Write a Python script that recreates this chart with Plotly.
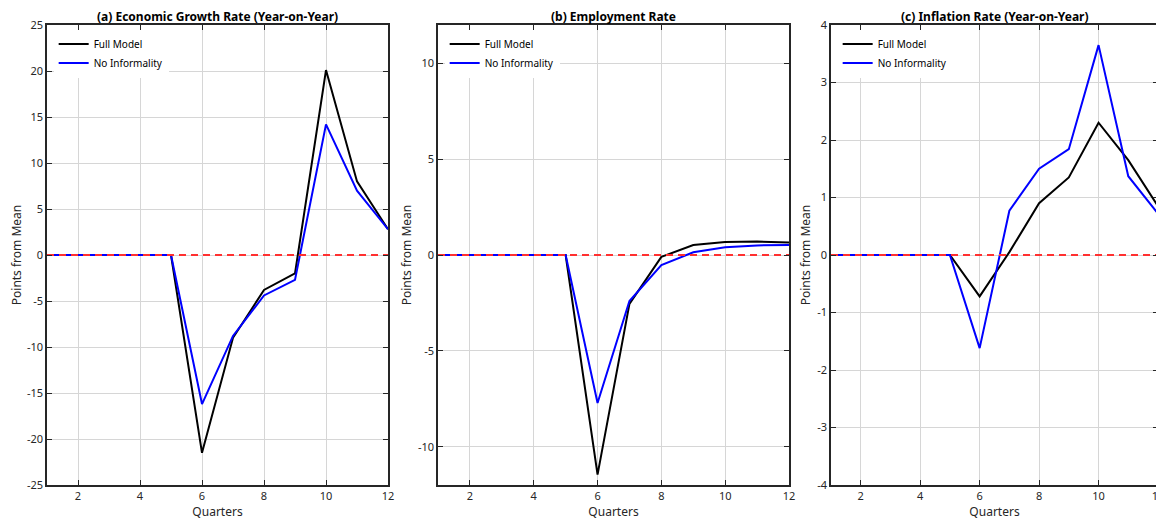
import plotly.graph_objects as go

quarters = list(range(1, 13))

growth_full = [0, 0, 0, 0, 0, -21.5, -9.0, -3.8, -2.0, 20.1, 8.0, 2.8]
growth_noinf = [0, 0, 0, 0, 0, -16.2, -8.8, -4.4, -2.7, 14.2, 7.0, 2.8]

employ_full = [0, 0, 0, 0, 0, -11.46, -2.55, -0.1, 0.52, 0.68, 0.7, 0.65]
employ_noinf = [0, 0, 0, 0, 0, -7.72, -2.4, -0.52, 0.14, 0.4, 0.5, 0.52]

infl_full = [0, 0, 0, 0, 0, -0.72, 0.05, 0.9, 1.35, 2.3, 1.65, 0.85]
infl_noinf = [0, 0, 0, 0, 0, -1.62, 0.77, 1.5, 1.84, 3.65, 1.37, 0.72]

titles = ["(a) Economic Growth Rate (Year-on-Year)", "(b) Employment Rate", "(c) Inflation Rate (Year-on-Year)"]
y_ranges = [[-25, 25], [-12, 12], [-4, 4]]
y_ticks = [[-25, -20, -15, -10, -5, 0, 5, 10, 15, 20, 25], [-10, -5, 0, 5, 10], [-4, -3, -2, -1, 0, 1, 2, 3, 4]]
x_ticks = [2, 4, 6, 8, 10, 12]
series = [(growth_full, growth_noinf), (employ_full, employ_noinf), (infl_full, infl_noinf)]

OFF = 8  # page body margin
FW, FH = 1164, 524
ML, MT = 47 - OFF, 25 - OFF
MB = FH - (485 - OFF)
MR = FW - (1158 - OFF)
W = FW - ML - MR
px_edges = [(47, 388), (438, 789), (831, 1158)]
x_domains = [[(a - OFF - ML) / W, (b - OFF - ML) / W] for a, b in px_edges]
x_domains[-1][1] = min(1.0, x_domains[-1][1])

FONT = "Noto Sans"
fig = go.Figure()

for i in range(3):
    sfx = "" if i == 0 else str(i + 1)
    xa, ya = "x" + sfx, "y" + sfx
    leg = "legend" + sfx
    full, noinf = series[i]
    fig.add_trace(go.Scatter(x=quarters, y=full, mode="lines", name="Full Model",
                             line=dict(color="black", width=2), xaxis=xa, yaxis=ya, legend=leg))
    fig.add_trace(go.Scatter(x=quarters, y=noinf, mode="lines", name="No Informality",
                             line=dict(color="#0000ff", width=2), xaxis=xa, yaxis=ya, legend=leg))
    fig.add_trace(go.Scatter(x=[1, 12], y=[0, 0], mode="lines", showlegend=False,
                             line=dict(color="#ff3030", width=2, dash="7px,5px"), xaxis=xa, yaxis=ya))
    common = dict(showline=True, linecolor="#262626", linewidth=1.5, mirror="allticks",
                  ticks="inside", ticklen=5, tickcolor="#262626", showgrid=True,
                  gridcolor="#d6d6d6", gridwidth=1, zeroline=False, automargin=False,
                  tickfont=dict(family=FONT, size=11, color="#262626"))
    fig.layout["xaxis" + sfx] = dict(domain=x_domains[i], range=[1, 12], tickvals=x_ticks,
                                     ticktext=[str(v) for v in x_ticks],
                                     anchor=ya, title=dict(text="Quarters", standoff=3,
                                     font=dict(family=FONT, size=12, color="#262626")), **common)
    fig.layout["yaxis" + sfx] = dict(domain=[0, 1], range=y_ranges[i], tickvals=y_ticks[i],
                                     ticktext=[str(v) for v in y_ticks[i]],
                                     anchor=xa, title=dict(text="Points from Mean", standoff=4,
                                     font=dict(family=FONT, size=12, color="#262626")), **common)
    fig.layout[leg] = dict(x=x_domains[i][0] + 0.006, y=0.99, xanchor="left", yanchor="top",
                           bgcolor="white", borderwidth=0, tracegroupgap=0, itemwidth=30,
                           font=dict(family=FONT, size=10, color="black"))
    fig.add_annotation(text="<b>" + titles[i] + "</b>", x=sum(x_domains[i]) / 2, y=1,
                       xref="paper", yref="paper", xanchor="center", yanchor="bottom", showarrow=False,
                       yshift=-2, font=dict(family=FONT, size=12, color="black"))

fig.update_layout(width=FW, height=FH, margin=dict(l=ML, r=MR, t=MT, b=MB, autoexpand=False),
                  plot_bgcolor="white", paper_bgcolor="white", showlegend=True)
fig.write_html("out.html")
